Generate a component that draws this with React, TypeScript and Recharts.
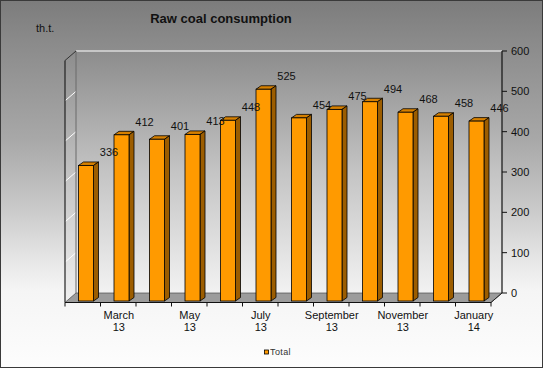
import React from "react";
import { BarChart, Bar, XAxis, YAxis, CartesianGrid, ReferenceArea, LabelList } from "recharts";

const categories = ["Feb 13", "Mar 13", "Apr 13", "May 13", "Jun 13", "Jul 13", "Aug 13", "Sep 13", "Oct 13", "Nov 13", "Dec 13", "Jan 14"];
const tickMonth = ["", "March", "", "May", "", "July", "", "September", "", "November", "", "January"];
const tickYear = ["", "13", "", "13", "", "13", "", "13", "", "13", "", "14"];
const totals = [336, 412, 401, 413, 448, 525, 454, 475, 494, 468, 458, 446];
const yTicks = [0, 100, 200, 300, 400, 500, 600];
const seriesName = "Total";
const title = "Raw coal consumption";
const unit = "th.t.";

const data = categories.map((c, i) => ({ cat: c, idx: i, total: totals[i] }));

const FONT = "Arial, 'Liberation Sans', sans-serif";
const W = 543;
const H = 368;
const DX = -11; // floor depth x
const DY = 9.5; // floor depth y
const FX = -7.5; // bar front offset x
const FY = 8; // bar front offset y
const SX = 5; // bar side depth
const SY = 3.5;

const BarShape = (props: any) => {
  const { x, y, width, height } = props;
  if (height == null || width == null) return null;
  const fx = x + FX;
  const fy = y + FY;
  const w = width;
  const h = height;
  return (
    <g>
      <polygon
        points={`${fx},${fy} ${fx + SX},${fy - SY} ${fx + w + SX},${fy - SY} ${fx + w},${fy}`}
        fill="#d68000"
        stroke="#000"
        strokeWidth={0.8}
      />
      <polygon
        points={`${fx + w},${fy} ${fx + w + SX},${fy - SY} ${fx + w + SX},${fy + h - SY} ${fx + w},${fy + h}`}
        fill="#9c5d00"
        stroke="#000"
        strokeWidth={0.8}
      />
      <rect x={fx} y={fy} width={w} height={h} fill="#ff9a00" stroke="#000" strokeWidth={0.8} />
    </g>
  );
};

const FloorShape = (props: any) => {
  const { x, y, width, height } = props;
  const b = y + height;
  const n = categories.length;
  const max = yTicks[yTicks.length - 1];
  const sideLines = yTicks.slice(1, -1).map((t) => y + height * (1 - t / max));
  const ticks = Array.from({ length: n + 1 }, (_, i) => x + DX + (i * width) / n);
  return (
    <g>
      <polygon
        points={`${x},${y} ${x},${b} ${x + DX},${b + DY} ${x + DX},${y + DY}`}
        fill="url(#wallGrad)"
      />
      {sideLines.map((ly, i) => (
        <line key={i} x1={x} y1={ly} x2={x + DX} y2={ly + DY} stroke="#ffffff" strokeWidth={1} />
      ))}
      <line x1={x} y1={y} x2={x} y2={b} stroke="#6a6a6a" strokeWidth={1} />
      <line x1={x} y1={y} x2={x + DX} y2={y + DY} stroke="#333" strokeWidth={1} />
      <line x1={x + DX} y1={y + DY} x2={x + DX} y2={b + DY} stroke="#222" strokeWidth={1.2} />
      <polygon
        points={`${x},${b} ${x + width},${b} ${x + width + DX},${b + DY} ${x + DX},${b + DY}`}
        fill="#9c9c9c"
        stroke="#555"
        strokeWidth={0.8}
      />
      <line x1={x + width} y1={b} x2={x + width + DX} y2={b + DY} stroke="#222" strokeWidth={1} />
      <line x1={x + DX} y1={b + DY} x2={x + width + DX} y2={b + DY} stroke="#111" strokeWidth={1.2} />
      {ticks.map((tx, i) => (
        <line key={i} x1={tx} y1={b + DY} x2={tx} y2={b + DY + 4} stroke="#111" strokeWidth={1} />
      ))}
    </g>
  );
};

const XTick = (props: any) => {
  const { x, y, payload } = props;
  const i = payload.index;
  if (!tickMonth[i]) return null;
  return (
    <g>
      <text x={x + DX + 0.5} y={y + 25.5} textAnchor="middle" fontSize={11} fontFamily={FONT} fill="#111">
        {tickMonth[i]}
      </text>
      <text x={x + DX + 0.5} y={y + 38} textAnchor="middle" fontSize={11} fontFamily={FONT} fill="#111">
        {tickYear[i]}
      </text>
    </g>
  );
};

const ValueLabel = (props: any) => {
  const { x, y, width, value } = props;
  return (
    <text x={x + width / 2 + FX + 23} y={y + FY - 9} textAnchor="middle" fontSize={11} fontFamily={FONT} fill="#111">
      {value}
    </text>
  );
};

export default function App() {
  return (
    <div style={{ position: "absolute", left: 0, top: 0, width: W, height: H, overflow: "hidden" }}>
      <div
        style={{
          position: "absolute",
          left: 0,
          top: 0,
          width: W,
          height: H,
          background:
            "linear-gradient(to bottom, #7c7c7c 0%, #8a8a8a 11%, #a8a8a8 38%, #c8c8c8 56%, #e5e5e5 70%, #f5f5f5 79%, #fdfdfd 100%)",
        }}
      />
      <div style={{ position: "absolute", left: 0, top: 0 }}>
        <BarChart
          width={W}
          height={H}
          data={data}
          margin={{ top: 51, right: 0, left: 76, bottom: 45 }}
          barSize={15}
        >
          <defs>
            <linearGradient id="backGrad" x1="0" y1="0" x2="0" y2="1">
              <stop offset="0%" stopColor="#8c8c8c" />
              <stop offset="50%" stopColor="#c4c4c4" />
              <stop offset="100%" stopColor="#f2f2f2" />
            </linearGradient>
            <linearGradient id="wallGrad" x1="0" y1="0" x2="0" y2="1">
              <stop offset="0%" stopColor="#8c8c8c" />
              <stop offset="50%" stopColor="#c4c4c4" />
              <stop offset="100%" stopColor="#f0f0f0" />
            </linearGradient>
          </defs>
          <CartesianGrid
            vertical={false}
            stroke="#ffffff"
            strokeWidth={1.2}
            fill="url(#backGrad)"
            fillOpacity={1}
          />
          <ReferenceArea y1={0} y2={600} yAxisId="r" shape={FloorShape} ifOverflow="visible" />
          <XAxis
            dataKey="cat"
            axisLine={false}
            tickLine={false}
            tickSize={0}
            tickMargin={0}
            interval={0}
            height={30}
            tick={XTick}
          />
          <YAxis
            yAxisId="r"
            orientation="right"
            width={41}
            domain={[0, 600]}
            ticks={yTicks}
            axisLine={{ stroke: "#111", strokeWidth: 1.2 }}
            tickLine={{ stroke: "#111" }}
            tickSize={5}
            tickMargin={4}
            tick={{ fontSize: 11, fontFamily: FONT, fill: "#111" }}
          />
          <Bar dataKey="total" yAxisId="r" name={seriesName} shape={BarShape} isAnimationActive={false}>
            <LabelList dataKey="total" content={ValueLabel} />
          </Bar>
        </BarChart>
      </div>
      <svg
        width={W}
        height={H}
        style={{ position: "absolute", left: 0, top: 0, pointerEvents: "none" }}
      >
        <text x={221} y={23} textAnchor="middle" fontSize={13} fontWeight="bold" fontFamily={FONT} fill="#111">
          {title}
        </text>
        <text x={36} y={32} fontSize={11} fontFamily={FONT} fill="#111">
          {unit}
        </text>
        <rect x={264.5} y={350} width={4} height={4} fill="#ff9a00" stroke="#000" strokeWidth={0.8} />
        <text x={270} y={355} fontSize={9} fontFamily={FONT} fill="#333" letterSpacing={0.4}>
          {seriesName}
        </text>
        <rect x={0.5} y={0.5} width={W - 1} height={H - 1} fill="none" stroke="#3a3a3a" strokeWidth={1} />
      </svg>
    </div>
  );
}
